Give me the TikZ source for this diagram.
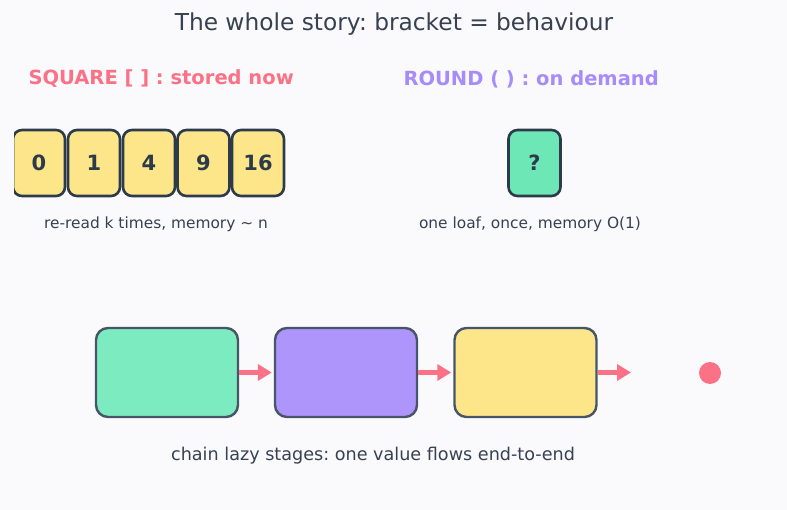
\documentclass[tikz,border=0pt]{standalone}
\usepackage{fontspec}
\setmainfont{DejaVu Sans}
\usepackage{xcolor}
\definecolor{colBg}{HTML}{FAFAFD}
\definecolor{colInk}{HTML}{374151}
\definecolor{colEdge}{HTML}{2D3A4A}
\definecolor{colEdgeSoft}{HTML}{475569}
\definecolor{colRose}{HTML}{FB7185}
\definecolor{colViolet}{HTML}{A78BFA}
\definecolor{colYellow}{HTML}{FDE68A}
\definecolor{colMint}{HTML}{6EE7B7}
\definecolor{colMintSoft}{HTML}{7DEBC0}
\definecolor{colPurple}{HTML}{AD95FB}
\usepackage{tikz}
\usetikzlibrary{arrows.meta, positioning}
\tikzset{
	cellbox/.style={draw=colEdge, line width=2.6pt, rounded corners=9pt, minimum width=52pt, minimum height=66pt, font=\fontsize{21}{25}\selectfont\bfseries, text=colEdge, fill=#1},
	stagebox/.style={draw=colEdgeSoft, line width=2.4pt, rounded corners=12pt, minimum width=142pt, minimum height=89pt, fill=#1},
	flowarr/.style={-{Triangle[length=14pt, width=16pt]}, line width=4.4pt, colRose},
}

\begin{document}
\frenchspacing
\begin{tikzpicture}[
		x=1pt, y=-1pt,
		headlbl/.style={anchor=west, font=\fontsize{19.5}{23}\selectfont\bfseries},
		caption/.style={text=colInk, font=\fontsize{15.4}{18}\selectfont},
	]
	% Background
	\fill[colBg] (0,0) rectangle (787,510);
	\useasboundingbox (0,0) rectangle (787,510);

	% Title
	\node[text=colInk, font=\fontsize{23.3}{27}\selectfont] (title) at (394,24) {The whole story: bracket = behaviour};

	% Headings
	\node[headlbl, text=colRose] (sqhead) at (25,79) {SQUARE [ ] : stored now};
	\node[headlbl, text=colViolet] (rdhead) at (400,79) {ROUND ( ) : on demand};

	% Stored list
	\begin{scope}
		\clip (14,100) rectangle (300,210);
		\node[cellbox=colYellow] (sq0) at (39,163) {0};
		\node[cellbox=colYellow] (sq1) at (94,163) {1};
		\node[cellbox=colYellow] (sq2) at (149,163) {4};
		\node[cellbox=colYellow] (sq3) at (203.5,163) {9};
		\node[cellbox=colYellow] (sq4) at (258,163) {16};
	\end{scope}
	\node[caption] (sqnote) at (156,224) {re-read k times, memory \textasciitilde{} n};

	% Lazy generator
	\node[cellbox=colMint] (gen) at (534.5,163) {?};
	\node[caption] (gennote) at (530,224) {one loaf, once, memory O(1)};

	% Pipeline
	\node[stagebox=colMintSoft] (st1) at (167,372.5) {};
	\node[stagebox=colPurple] (st2) at (346,372.5) {};
	\node[stagebox=colYellow] (st3) at (525.5,372.5) {};
	\coordinate (out) at (631,372.5);
	\node[circle, fill=colRose, minimum size=22pt, inner sep=0pt] (val) at (710,373) {};

	\draw[flowarr, shorten >=2pt] (st1) -- (st2);
	\draw[flowarr, shorten >=2pt] (st2) -- (st3);
	\draw[flowarr] (st3) -- (out);

	\node[text=colInk, font=\fontsize{17.6}{21}\selectfont] (chainnote) at (373,456) {chain lazy stages: one value flows end-to-end};
\end{tikzpicture}
\end{document}
